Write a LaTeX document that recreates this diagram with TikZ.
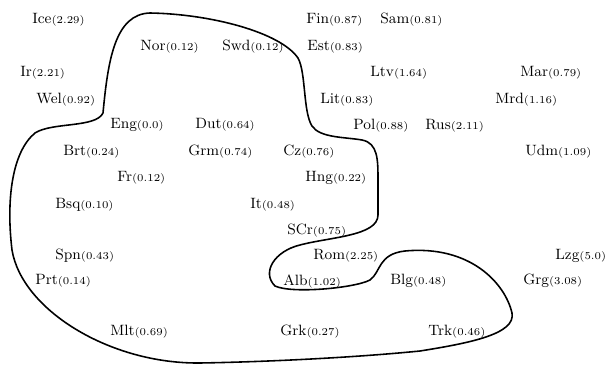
\documentclass[tikz,border=0pt]{standalone}
\usepackage{tikz}

\tikzset{
  lang/.style={anchor=west, inner sep=0pt, font=\fontsize{8.5}{9}\selectfont},
  region/.style={line width=0.9pt, line join=round}
}
% distance value set smaller after the language name
\newcommand{\dist}[1]{{\fontsize{6}{7}\selectfont(#1)}}

\begin{document}
\begin{tikzpicture}[x=0.02cm, y=-0.02cm]
    \useasboundingbox (0,0) rectangle (616,365);

    % language labels with their distances
    \foreach \x/\y/\nm/\v in {
        32/20/Ice/2.29, 306/20/Fin/0.87, 380/20/Sam/0.81,
        140/47/Nor/0.12, 222/47/Swd/0.12, 307/47/Est/0.83,
        20/73/Ir/2.21, 370/73/Ltv/1.64, 520/73/Mar/0.79,
        36/100/Wel/0.92, 320/100/Lit/0.83, 495/100/Mrd/1.16,
        110/125/Eng/0.0, 195/125/Dut/0.64, 353/126/Pol/0.88, 425/126/Rus/2.11,
        63/152/Brt/0.24, 188/152/Grm/0.74, 283/152/Cz/0.76, 525/152/Udm/1.09,
        117/178/Fr/0.12, 305/178/Hng/0.22,
        55/205/Bsq/0.10, 250/205/It/0.48,
        287/231/SCr/0.75,
        55/256/Spn/0.43, 313/256/Rom/2.25, 555/256/Lzg/5.0,
        35/281/Prt/0.14, 283/281/Alb/1.02, 390/281/Blg/0.48, 523/281/Grg/3.08,
        110/332/Mlt/0.69, 280/332/Grk/0.27, 428/332/Trk/0.46} {
        \node[lang] (\nm) at (\x,\y) {\nm\dist{\v}};
    }

    % outline round the grouped languages
    \draw[region] (103,113)
        .. controls (108,60) and (115,14) .. (150,13)     % up past Wel
        .. controls (210,14) and (280,32) .. (298,58)     % over Nor, Swd
        .. controls (306,72) and (303,112) .. (312,126)   % down past Est, Lit
        .. controls (320,138) and (345,137) .. (362,140)  % under Lit
        .. controls (378,143) and (378,160) .. (378,180)  % round Pol
        -- (378,215)                                      % past Hng
        .. controls (378,236) and (330,237) .. (300,245)  % under SCr
        .. controls (275,251) and (261,272) .. (275,286)  % left of Alb
        .. controls (292,294) and (355,288) .. (370,280)  % under Alb
        .. controls (381,272) and (378,254) .. (405,251)  % up to Blg
        .. controls (470,245) and (505,283) .. (512,313)  % over Blg
        .. controls (516,334) and (470,343) .. (420,351)  % past Trk
        .. controls (350,358) and (260,362) .. (200,363)  % under Grk
        .. controls (110,364) and (22,310) .. (12,250)    % round Mlt, Prt
        .. controls (6,200) and (12,152) .. (35,133)      % up past Bsq, Brt
        .. controls (52,122) and (96,128) .. cycle;       % under Wel
\end{tikzpicture}
\end{document}
